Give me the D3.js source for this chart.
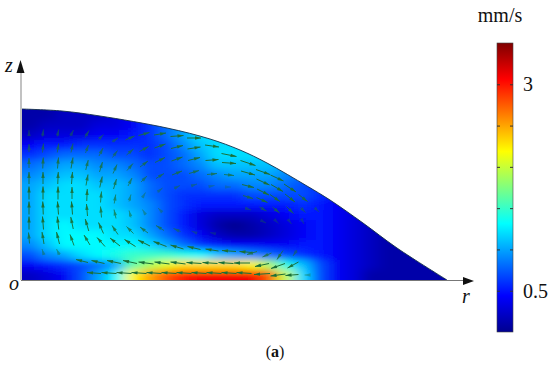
<!DOCTYPE html>
<html>
<head>
<meta charset="utf-8">
<script src="https://cdn.jsdelivr.net/npm/d3@7"></script>
<style>
  html, body { margin: 0; padding: 0; background: #fff; }
  text { font-family: "Liberation Serif", serif; fill: #111; }
</style>
</head>
<body>
<svg id="chart" width="550" height="369"></svg>
<script>
// speed in tenths of mm/s, one row per 10 units of z (top row first), one column per 17 units of r
const speedRows = [
  [1,1,2,2,2,3,4,6,8,10,11,11,12,12,12,11,9,6,4,3,2,1,1,1,1],
  [1,2,2,2,3,3,4,6,8,10,11,12,12,12,12,11,9,6,4,3,2,1,1,1,1],
  [2,3,3,3,4,4,5,6,8,10,12,12,12,12,12,11,9,6,4,3,2,1,1,1,1],
  [4,5,5,6,6,6,6,6,7,9,11,12,12,12,12,11,9,6,4,3,2,1,1,1,1],
  [6,7,8,8,8,7,7,6,7,8,10,12,12,12,12,11,9,6,4,3,2,1,1,1,1],
  [8,9,10,10,9,9,8,7,7,8,9,11,11,11,11,10,8,6,4,3,2,1,1,1,1],
  [9,10,11,11,10,10,9,7,7,7,8,9,10,10,10,9,8,6,4,3,2,1,1,1,1],
  [10,11,12,12,11,11,10,8,7,7,7,8,8,9,9,8,7,6,4,3,2,1,1,1,1],
  [10,12,12,12,12,11,10,8,7,6,6,6,6,7,7,7,7,6,4,3,2,1,1,1,1],
  [10,12,12,12,12,11,10,9,7,6,5,5,5,5,5,5,6,5,4,3,2,1,1,1,1],
  [10,12,12,12,12,12,11,9,7,5,3,2,2,2,3,4,5,5,4,3,2,1,1,1,1],
  [10,12,13,12,12,12,11,9,7,5,3,1,0,1,2,3,4,5,4,3,2,1,1,1,1],
  [10,12,13,13,13,12,12,10,8,6,4,2,1,1,2,3,4,5,4,3,2,1,1,1,1],
  [9,11,13,13,13,13,13,12,10,8,6,5,4,4,4,4,5,5,4,3,2,1,1,1,1],
  [7,9,10,12,13,14,15,15,15,14,13,11,10,9,8,7,6,5,4,3,2,1,1,1,1],
  [4,5,6,7,8,10,16,19,21,23,23,23,23,22,19,14,11,7,4,3,2,1,1,1,1],
  [2,3,4,7,10,13,22,25,28,30,31,31,31,31,28,20,12,7,4,3,1,1,1,1,1]
];

// free surface profile [r, z]
const surface = [[0,171],[40,169],[78,164],[145,152],[188,141],[218,130],[245,117],[285,94],[308,80],[341,57],[375,32],[425,0]];

// velocity arrows [r, z, dr, dz]
const leftArrows = [
  [7,147,0,6],[7,132,0,8],[7,117,0,10],[7,102,0,12],[7,87,0,13],[7,72,0,13],[7,57,0,13],[7,42,-1,11],
  [21,147,1,7],[21,132,1,9],[21,117,.5,11],[21,102,0,12],[21,87,0,13],[21,72,-.5,13],[21,57,-1,13],[21,42,-2,12],[21,28,-2,6],
  [36,147,1.5,7],[36,132,1.5,9],[36,117,1,11],[36,102,.5,12],[36,87,0,13],[36,72,-1,13],[36,57,-1.5,13],[36,42,-3,12],[36,28,-3,6],
  [50,147,3,6],[50,132,2,9],[50,117,2,11],[50,102,1,12],[50,87,0,12],[50,72,-1,13],[50,57,-2.5,12],[50,40,-4,11],
  [65,146,4,7],[65,131,3,8],[65,115,2.5,10],[65,100,2,11],[65,85,.5,12],[65,70,-1,12],[65,55,-3.5,12],[65,40,-6,10],
  [79,143,5,5],[79,128,4,8],[79,113,3,10],[79,98,2.5,11],[79,83,1,11],[79,68,-1,11],[79,52,-5,11],[79,38,-8,9],
  [93,140,6,4],[93,126,5,7],[93,111,4,9],[93,96,3,10],[93,81,1.5,9],[93,66,-2,9],[93,50,-6,9],[93,38,-10,8]
];
const topArrows = [
  [108,142,9,4],[108,128,7,6],[108,113,6,7],[108,98,4,8],[108,82,2,7],[108,66,-2,7],
  [122,146,11,3],[122,131,9,5],[122,116,8,6],[122,101,6,6],[122,85,3,5],[122,68,-3,5],
  [138,146,12,2],[138,134,11,4],[138,120,10,5],[138,104,8,5],[138,90,5,4],[138,70,-4,4],
  [155,144,13,1],[155,133,12,3],[155,121,11,4],[155,107,10,4],[155,93,6,3],
  [172,142,14,0],[172,132,13,2],[172,121,12,3],[172,108,10,3],[172,95,6,2],
  [190,134,14,-2],[190,120,13,1],[190,106,10,1],[190,94,5,1],
  [207,125,15,-3],[207,117,14,-1],[207,105,10,-1],[207,93,4,0]
];
const rightArrows = [
  [226,117,15,-5],[226,107,14,-4],[226,94,12,-3],[226,83,10,-3],[226,71,6,-2],
  [241,108,14,-5],[241,98,13,-6],[241,88,12,-6],[240,80,11,-5],[241,71,7,-4],[242,58,4,-2],
  [255,102,13,-6],[255,92,12,-7],[253,82,10,-7],[254,70,7,-6],[255,58,3,-3],
  [268,92,12,-8],[268,82,10,-8],[268,70,7,-7],[268,58,3,-4],
  [281,82,9,-7],[281,70,5,-5],[281,58,2,-4],[295,70,4,-4]
];
const bottomArrows = [
  [108,50,-7,7],[108,37,-11,7],[122,50,-8,6],[122,37,-12,6],[138,52,-8,5],[138,36,-13,5],
  [155,50,-7,3],[155,33,-13,4],[172,48,-5,2],[172,32,-13,3],[190,47,-4,1],[190,30,-13,2],
  [207,29,-14,1],[224,28,-13,1],[230,27,-10,-3],[245,25,-9,-4],[258,25,-6,-9],[273,27,-4,-6],
  [60,19,-12,3],[76,18,-13,3],[92,18,-14,3],[108,18,-14,3],[124,17,-15,2],[140,17,-15,2],[156,17,-15,2],
  [172,17,-15,1],[188,17,-15,1],[204,17,-15,1],[220,17,-16,0],[240,15,-14,-3],[256,14,-14,-5],[271,15,-11,-6],
  [72,7,-14,1],[87,7,-15,1],[102,7,-15,1],[117,7,-15,1],[132,7,-15,1],[147,7,-15,1],[162,7,-15,1],
  [177,7,-15,1],[192,7,-15,1],[207,7,-15,1],[222,7,-15,1],[240,6,-16,-1],[256,5,-15,-2],[270,5,-13,-1],[285,5,-5,0]
];

// colour bar
const barMin = 0, barMax = 3.5;
const barTicks = [0.5, 1, 1.5, 2, 2.5, 3];
const barLabels = [0.5, 3];
const jetStops = ["#00008f", "#0000ff", "#00ffff", "#ffff00", "#ff0000", "#7f0000"];
const jetOffsets = [0, 0.125, 0.375, 0.625, 0.875, 1];

const rStep = 17, zStep = 10, zTop = 170;

const svg = d3.select("#chart");
const defs = svg.append("defs");

const r = d3.scaleLinear().domain([0, 425]).range([22, 447]);
const z = d3.scaleLinear().domain([0, 170]).range([280, 110]);
const jet = d3.scaleLinear()
  .domain(jetOffsets.map(d => d * barMax))
  .range(jetStops)
  .interpolate(d3.interpolateRgb);

const surfaceLine = d3.line().x(d => r(d[0])).y(d => z(d[1])).curve(d3.curveCatmullRom);

defs.append("clipPath").attr("id", "dome")
  .append("path")
  .attr("d", surfaceLine(surface) + "L" + r(0) + "," + z(0) + "Z");

const blur = defs.append("filter").attr("id", "smooth")
  .attr("filterUnits", "userSpaceOnUse")
  .attr("x", -60).attr("y", 60).attr("width", 600).attr("height", 300);
blur.append("feGaussianBlur").attr("stdDeviation", "7 3.5");

// the field, cells are repeated past the edges so the blur has no white rim
const cells = [];
for (let i = -3; i < speedRows.length + 3; i++) {
  for (let j = -3; j < speedRows[0].length + 3; j++) {
    const row = speedRows[Math.max(0, Math.min(speedRows.length - 1, i))];
    cells.push({ i: i, j: j, v: row[Math.max(0, Math.min(row.length - 1, j))] / 10 });
  }
}

svg.append("g").attr("clip-path", "url(#dome)")
  .append("g").attr("filter", "url(#smooth)")
  .selectAll("rect").data(cells).join("rect")
  .attr("x", d => r(d.j * rStep))
  .attr("y", d => z(zTop - d.i * zStep))
  .attr("width", r(rStep) - r(0) + 0.5)
  .attr("height", z(0) - z(zStep) + 0.5)
  .attr("fill", d => jet(d.v));

svg.append("path")
  .attr("d", surfaceLine(surface))
  .attr("fill", "none")
  .attr("stroke", "#14304a")
  .attr("stroke-width", 0.9);

// arrows
const allArrows = leftArrows.concat(topArrows, rightArrows, bottomArrows);
svg.append("g").selectAll("g").data(allArrows).join("g")
  .each(function(d) {
    const x0 = r(d[0] - d[2] / 2), y0 = z(d[1] - d[3] / 2);
    const x1 = r(d[0] + d[2] / 2), y1 = z(d[1] + d[3] / 2);
    const len = Math.hypot(d[2], d[3]);
    const a = Math.atan2(y1 - y0, x1 - x0);
    const g = d3.select(this).attr("opacity", Math.min(1, len / 13));
    g.append("line")
      .attr("x1", x0).attr("y1", y0).attr("x2", x1).attr("y2", y1)
      .attr("stroke", "#1a7038").attr("stroke-width", 1);
    const hl = 6, hw = 1.7;
    const bx = x1 - hl * Math.cos(a), by = y1 - hl * Math.sin(a);
    g.append("path")
      .attr("d", "M" + x1 + "," + y1 +
        "L" + (bx - hw * Math.sin(a)) + "," + (by + hw * Math.cos(a)) +
        "L" + (bx + hw * Math.sin(a)) + "," + (by - hw * Math.cos(a)) + "Z")
      .attr("fill", "#1a7038");
  });

// axes of the sketch
const axisG = svg.append("g");
axisG.append("line").attr("x1", 21).attr("y1", 66).attr("x2", 21).attr("y2", 280).attr("stroke", "#999").attr("stroke-width", 1.2);
axisG.append("line").attr("x1", 21).attr("y1", 280.5).attr("x2", 466).attr("y2", 280.5).attr("stroke", "#777").attr("stroke-width", 1.2);
axisG.append("path").attr("d", "M20.5,60L16.5,73L24.5,73Z").attr("fill", "#111");
axisG.append("path").attr("d", "M474,281L463,277L463,285Z").attr("fill", "#111");

svg.append("text").attr("x", 5).attr("y", 72).attr("font-size", 20).attr("font-style", "italic").text("z");
svg.append("text").attr("x", 9).attr("y", 290).attr("font-size", 20).attr("font-style", "italic").text("o");
svg.append("text").attr("x", 462).attr("y", 303).attr("font-size", 20).attr("font-style", "italic").text("r");

const caption = svg.append("text").attr("x", 275).attr("y", 357).attr("font-size", 16).attr("text-anchor", "middle");
caption.append("tspan").text("(");
caption.append("tspan").attr("font-weight", "bold").text("a");
caption.append("tspan").text(")");

// colour bar
const barScale = d3.scaleLinear().domain([barMin, barMax]).range([332, 43]);
const barX = 497, barW = 16;

const grad = defs.append("linearGradient").attr("id", "jetBar")
  .attr("x1", 0).attr("y1", 1).attr("x2", 0).attr("y2", 0);
grad.selectAll("stop").data(jetOffsets).join("stop")
  .attr("offset", d => d)
  .attr("stop-color", (d, i) => jetStops[i]);

svg.append("rect")
  .attr("x", barX).attr("y", barScale(barMax))
  .attr("width", barW).attr("height", barScale(barMin) - barScale(barMax))
  .attr("fill", "url(#jetBar)")
  .attr("stroke", "#444").attr("stroke-width", 0.6);

const rightAxis = d3.axisRight(barScale)
  .tickValues(barTicks)
  .tickSize(-3)
  .tickPadding(10)
  .tickFormat(d => barLabels.includes(d) ? d : "");
const leftAxis = d3.axisLeft(barScale).tickValues(barTicks).tickSize(-3).tickFormat("");

const gr = svg.append("g").attr("transform", "translate(" + (barX + barW) + ",0)").call(rightAxis);
const gl = svg.append("g").attr("transform", "translate(" + barX + ",0)").call(leftAxis);
gr.select(".domain").remove();
gl.select(".domain").remove();
svg.selectAll(".tick line").attr("stroke", "#333");
gr.selectAll("text").attr("font-size", 20).attr("font-family", "Liberation Serif").attr("fill", "#111");

svg.append("text").attr("x", 500).attr("y", 22).attr("font-size", 20).attr("text-anchor", "middle").text("mm/s");
</script>
</body>
</html>
